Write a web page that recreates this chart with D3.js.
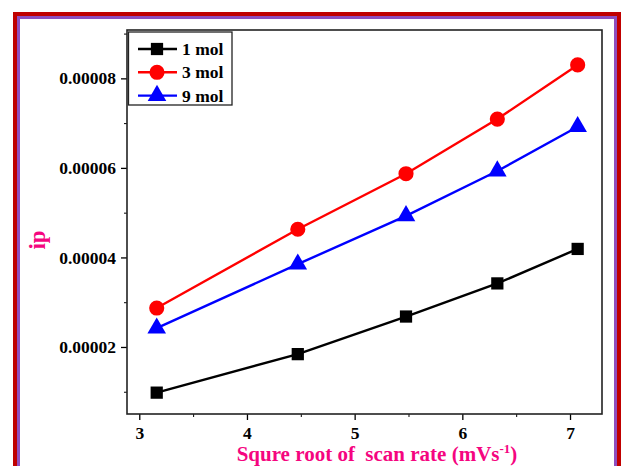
<!DOCTYPE html>
<html lang="en">
<head>
  <meta charset="UTF-8">
  <title>ip vs square root of scan rate</title>
  <script src="https://d3js.org/d3.v7.min.js"></script>
  <style>
    body, html {
      margin: 0;
      background-color: #ffffff;
      overflow: hidden;
    }
    svg text {
      font-family: 'Liberation Serif', 'Times New Roman', serif;
      font-weight: bold;
    }
  </style>
</head>
<body>
<svg id="chart" width="621" height="466"></svg>

<script>
  // square root of scan rate (10, 20, 30, 40, 50 mV/s)
  const sqrtScan = [3.162, 4.472, 5.477, 6.325, 7.071];
  const mol1 = [0.0000098, 0.0000184, 0.0000268, 0.0000342, 0.0000419];
  const mol3 = [0.0000287, 0.0000463, 0.0000587, 0.0000709, 0.0000830];
  const mol9 = [0.0000242, 0.0000385, 0.0000493, 0.0000593, 0.0000692];
  const seriesNames = ["1 mol", "3 mol", "9 mol"];
  const xTicks = [3, 4, 5, 6, 7];
  const yTicks = [0.00002, 0.00004, 0.00006, 0.00008];

  const svg = d3.select("#chart");

  // outer decorative frame (red + purple)
  svg.append("rect").attr("x", 15).attr("y", 14).attr("width", 604).attr("height", 470)
    .attr("fill", "none").attr("stroke", "#c00000").attr("stroke-width", 4);
  svg.append("rect").attr("x", 18.5).attr("y", 17.5).attr("width", 597).attr("height", 463)
    .attr("fill", "none").attr("stroke", "#8e4fbf").attr("stroke-width", 3);

  const margin = { left: 127, top: 30, right: 602, bottom: 414 };

  const x = d3.scaleLinear().domain([2.886, 7.297]).range([margin.left, margin.right]);
  const y = d3.scaleLinear().domain([0.00000503, 0.0000908]).range([margin.bottom, margin.top]);

  // minor ticks
  const xMinor = [3.5, 4.5, 5.5, 6.5];
  const yMinor = [0.00001, 0.00003, 0.00005, 0.00007, 0.00009];

  const xAxis = svg.append("g").attr("transform", `translate(0,${margin.bottom})`)
    .call(d3.axisBottom(x).tickValues(xTicks).tickSize(6).tickSizeOuter(0).tickPadding(7)
      .tickFormat(d3.format("d")));
  svg.append("g").attr("transform", `translate(0,${margin.bottom})`)
    .call(d3.axisBottom(x).tickValues(xMinor).tickSize(3).tickSizeOuter(0).tickFormat(""))
    .select(".domain").remove();

  const yAxis = svg.append("g").attr("transform", `translate(${margin.left},0)`)
    .call(d3.axisLeft(y).tickValues(yTicks).tickSize(6).tickSizeOuter(0).tickPadding(5)
      .tickFormat(d => d.toFixed(5)));
  svg.append("g").attr("transform", `translate(${margin.left},0)`)
    .call(d3.axisLeft(y).tickValues(yMinor).tickSize(3).tickSizeOuter(0).tickFormat(""))
    .select(".domain").remove();

  [xAxis, yAxis].forEach(a => {
    a.attr("font-family", null).attr("font-size", null);
    a.selectAll("text").attr("fill", "#000").style("font-size", "17.5px");
    a.selectAll("line").attr("stroke", "#000").attr("stroke-width", 1.3);
    a.select(".domain").remove();
  });

  // plot frame
  svg.append("rect")
    .attr("x", margin.left).attr("y", margin.top)
    .attr("width", margin.right - margin.left).attr("height", margin.bottom - margin.top)
    .attr("fill", "none").attr("stroke", "#222").attr("stroke-width", 1.6);

  const line = d3.line().x((d, i) => x(sqrtScan[i])).y(d => y(d));

  const series = [
    { name: seriesNames[0], data: mol1, color: "#000000", shape: d3.symbolSquare, size: 150 },
    { name: seriesNames[1], data: mol3, color: "#ff0000", shape: d3.symbolCircle, size: 180 },
    { name: seriesNames[2], data: mol9, color: "#0000ff", shape: d3.symbolTriangle, size: 150 }
  ];

  series.forEach(s => {
    svg.append("path").datum(s.data)
      .attr("fill", "none").attr("stroke", s.color).attr("stroke-width", 2.4)
      .attr("d", line);
    svg.append("g").selectAll("path").data(s.data).join("path")
      .attr("transform", (d, i) => `translate(${x(sqrtScan[i])},${y(d)})`)
      .attr("d", d3.symbol().type(s.shape).size(s.size))
      .attr("fill", s.color);
  });

  // legend
  const legend = svg.append("g");
  legend.append("rect").attr("x", 128.5).attr("y", 32).attr("width", 103.5).attr("height", 73)
    .attr("fill", "#fff").attr("stroke", "#222").attr("stroke-width", 1.3);
  series.forEach((s, i) => {
    const ly = 49 + i * 23.3;
    legend.append("line").attr("x1", 138).attr("x2", 177).attr("y1", ly).attr("y2", ly)
      .attr("stroke", s.color).attr("stroke-width", 2.4);
    legend.append("path")
      .attr("transform", `translate(157,${ly})`)
      .attr("d", d3.symbol().type(s.shape).size(s.size))
      .attr("fill", s.color);
    legend.append("text").attr("x", 182).attr("y", ly + 6)
      .style("font-size", "17.5px").attr("fill", "#000").text(s.name);
  });

  // axis titles
  const pink = "#f5057f";
  const xt = svg.append("text").attr("x", 377).attr("y", 461).attr("text-anchor", "middle")
    .attr("fill", pink).style("font-size", "21px").attr("xml:space", "preserve");
  xt.append("tspan").text("Squre root of  scan rate (mVs");
  xt.append("tspan").attr("dy", -8).style("font-size", "13px").text("-1");
  xt.append("tspan").attr("dy", 8).text(")");

  svg.append("text")
    .attr("transform", "translate(45,240) rotate(-90)")
    .attr("text-anchor", "middle")
    .attr("fill", pink).style("font-size", "23px").text("ip");
</script>
</body>
</html>
